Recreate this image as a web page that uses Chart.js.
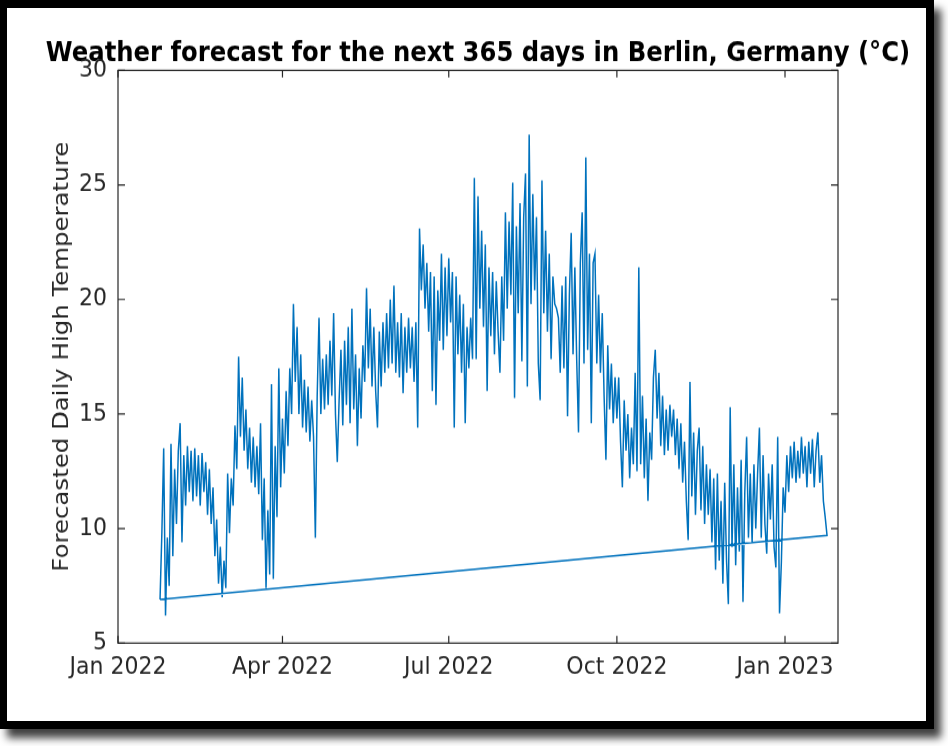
<!DOCTYPE html>
<html>
<head>
<meta charset="utf-8">
<title>Berlin forecast</title>
<script src="https://cdn.jsdelivr.net/npm/chart.js@4.4.1/dist/chart.umd.min.js"></script>
<style>
  body { margin: 0; width: 948px; height: 746px; overflow: hidden; position: relative; background: #fff; }
  .frame {
    position: absolute; left: 0; top: 0;
    width: 919px; height: 713px;
    border: 8px solid #000; border-left-width: 7px;
    background: #fff;
    box-shadow: 7px 9px 8px rgba(0, 0, 0, 0.75);
  }
  /* the original picture is stretched a little vertically */
  #chart { position: absolute; left: 0; top: 0; transform: scaleY(1.1101); transform-origin: 0 0; }
</style>
</head>
<body>
<div class="frame"></div>
<canvas id="chart" width="948" height="672"></canvas>
<script>
// Days are counted from 1 Jan 2022; the forecast starts on 24 Jan 2022 (day 23)
const firstDay = 23;

// Forecasted daily high temperature (°C), one value per day, days 23 .. 388
const highTemps = [
  6.9, 9.8, 13.5, 6.2, 9.6, 7.5, 13.7, 8.8, 12.6, 10.2,
  13.4, 14.6, 9.4, 13.2, 11.0, 13.6, 11.6, 13.4, 11.2, 13.5,
  11.4, 13.2, 11.0, 13.3, 11.6, 12.9, 10.6, 12.6, 10.2, 11.8,
  8.8, 10.4, 7.6, 9.2, 7.0, 8.6, 7.4, 12.4, 9.8, 12.2,
  11.0, 14.5, 12.6, 17.5, 14.0, 16.6, 13.4, 15.2, 12.6, 14.4,
  12.0, 14.0, 11.8, 13.6, 11.5, 14.6, 9.5, 12.2, 7.4, 10.8,
  8.0, 16.3, 7.8, 13.6, 10.5, 17.0, 11.8, 14.8, 12.4, 16.0,
  13.6, 17.0, 15.0, 19.8, 16.4, 18.8, 15.0, 17.6, 14.4, 16.5,
  14.2, 16.2, 13.8, 15.6, 14.0, 9.6, 15.8, 19.2, 15.0, 17.4,
  15.2, 17.6, 15.4, 18.2, 15.8, 19.4, 15.0, 12.9, 15.6, 17.8,
  14.5, 18.2, 15.4, 18.8, 14.6, 19.6, 15.2, 17.6, 13.6, 17.0,
  14.8, 18.0, 16.4, 20.5, 17.0, 19.6, 16.2, 18.8, 16.0, 14.4,
  18.6, 16.2, 19.0, 16.8, 19.4, 17.0, 20.0, 17.2, 20.6, 16.8,
  19.0, 16.6, 19.4, 15.9, 18.8, 16.8, 19.2, 17.0, 18.8, 16.4,
  19.0, 14.4, 23.1, 20.4, 22.4, 19.6, 21.6, 18.6, 21.2, 16.0,
  21.0, 15.4, 20.4, 18.2, 22.0, 17.8, 21.4, 18.4, 21.8, 19.0,
  21.2, 14.4, 21.0, 17.6, 20.2, 16.8, 19.8, 14.6, 18.8, 17.0,
  19.2, 17.4, 25.3, 17.4, 24.5, 19.6, 23.0, 18.8, 22.4, 16.0,
  21.4, 18.4, 21.2, 17.6, 20.8, 18.6, 16.8, 21.0, 18.2, 23.8,
  19.6, 23.4, 20.2, 25.1, 15.7, 23.2, 19.4, 24.2, 17.3, 23.6,
  25.5, 16.2, 27.2, 19.8, 24.6, 20.4, 23.6, 17.2, 15.6, 25.2,
  19.4, 23.0, 18.6, 22.0, 17.4, 21.0, 19.8, 19.6, 19.2, 16.8,
  20.6, 17.0, 21.0, 14.9, 20.2, 22.9, 17.6, 21.4, 17.4, 14.2,
  21.6, 23.8, 17.2, 26.2, 17.8, 22.0, 14.6, 21.6, 22.0, 17.2,
  20.2, 16.8, 19.4, 15.8, 13.0, 18.0, 15.2, 17.2, 14.6, 16.6,
  14.8, 16.6, 13.8, 11.8, 15.6, 13.4, 15.0, 12.2, 14.4, 12.8,
  16.8, 12.5, 21.4, 12.8, 15.8, 12.2, 14.8, 11.2, 14.2, 13.0,
  16.6, 17.8, 14.8, 16.8, 13.6, 15.8, 13.2, 15.2, 13.4, 15.4,
  14.0, 15.2, 13.2, 14.8, 12.6, 14.6, 12.0, 13.8, 11.2, 9.5,
  16.4, 11.4, 14.2, 10.6, 13.4, 14.4, 10.8, 13.6, 10.2, 12.8,
  10.6, 12.6, 9.4, 12.2, 8.2, 12.4, 8.6, 11.2, 7.6, 12.0,
  8.6, 6.7, 15.3, 9.2, 12.8, 8.4, 11.8, 9.0, 13.0, 6.8,
  11.6, 14.0, 9.6, 12.4, 9.4, 12.8, 10.0, 12.4, 14.4, 9.6,
  13.2, 10.2, 8.9, 12.4, 10.4, 12.8, 9.2, 8.3, 14.0, 6.3,
  8.5, 11.8, 10.7, 13.2, 11.6, 13.6, 12.2, 13.8, 12.0, 13.4,
  12.2, 14.0, 12.4, 13.6, 11.8, 13.8, 12.4, 13.9, 11.8, 13.4,
  14.2, 12.0, 13.2, 11.2, 10.5, 9.7
];

// x axis ticks (day numbers) and their labels
const tickDays = [0, 90, 181, 273, 365];
const tickLabels = ['Jan 2022', 'Apr 2022', 'Jul 2022', 'Oct 2022', 'Jan 2023'];
const yTicks = [5, 10, 15, 20, 25, 30];

const axisGray = '#262626';
const lineBlue = '#0072BD';

// the plotted series joins its last reading back to the first one
const points = highTemps.map((t, i) => ({ x: firstDay + i, y: t }));
points.push(points[0]);

// box around the axes with inward tick marks on all four sides
const axesBox = {
    id: 'axesBox',
    afterDatasetsDraw(chart) {
        const { ctx, chartArea: a, scales: { x, y } } = chart;
        ctx.save();
        ctx.strokeStyle = axisGray;
        ctx.lineWidth = 1.2;
        ctx.strokeRect(a.left, a.top, a.right - a.left, a.bottom - a.top);
        ctx.beginPath();
        x.ticks.forEach(t => {
            const px = x.getPixelForValue(t.value);
            ctx.moveTo(px, a.bottom); ctx.lineTo(px, a.bottom - 6.5);
            ctx.moveTo(px, a.top); ctx.lineTo(px, a.top + 6.5);
        });
        y.ticks.forEach(t => {
            const py = y.getPixelForValue(t.value);
            ctx.moveTo(a.left, py); ctx.lineTo(a.left + 7, py);
            ctx.moveTo(a.right, py); ctx.lineTo(a.right - 7, py);
        });
        ctx.stroke();
        ctx.restore();
    }
};

const tickFont = { family: 'DejaVu Sans', size: 22 };

const ctx = document.getElementById('chart').getContext('2d');
const chart = new Chart(ctx, {
    type: 'line',
    data: {
        datasets: [{
            data: points,
            borderColor: lineBlue,
            borderWidth: 1.5,
            pointRadius: 0,
            tension: 0,
            fill: false
        }]
    },
    options: {
        responsive: false,
        animation: false,
        devicePixelRatio: 1,
        layout: { padding: { left: 8, right: 0, top: 0, bottom: 0 } },
        plugins: {
            legend: { display: false },
            tooltip: { enabled: false },
            title: {
                display: true,
                text: 'Weather forecast for the next 365 days in Berlin, Germany (°C)',
                color: '#000',
                font: { family: 'DejaVu Sans', size: 24.3, weight: 'bold' },
                padding: { top: 34.2, bottom: 0 }
            }
        },
        scales: {
            x: {
                type: 'linear',
                min: 0,
                max: 394,
                afterBuildTicks: scale => { scale.ticks = tickDays.map(v => ({ value: v })); },
                afterFit: scale => { scale.height = 92.7; },
                grid: { display: false, drawTicks: false },
                border: { display: false },
                ticks: {
                    autoSkip: false,
                    maxRotation: 0,
                    padding: 9,
                    color: axisGray,
                    font: tickFont,
                    callback: (value, index) => tickLabels[index]
                }
            },
            y: {
                min: 5,
                max: 30,
                afterBuildTicks: scale => { scale.ticks = yTicks.map(v => ({ value: v })); },
                afterFit: scale => { scale.width = 110; },
                grid: { display: false, drawTicks: false },
                border: { display: false },
                ticks: { padding: 11, color: axisGray, font: tickFont },
                title: {
                    display: true,
                    text: 'Forecasted Daily High Temperature',
                    color: axisGray,
                    font: tickFont,
                    padding: { top: 41, bottom: 0 }
                }
            },
            // empty right-hand axis: keeps the margin on the right of the plot box
            yRight: {
                position: 'right',
                min: 5,
                max: 30,
                afterFit: scale => { scale.width = 110; },
                grid: { display: false, drawTicks: false },
                border: { display: false },
                ticks: { display: false }
            }
        }
    },
    plugins: [axesBox]
});
</script>
</body>
</html>
